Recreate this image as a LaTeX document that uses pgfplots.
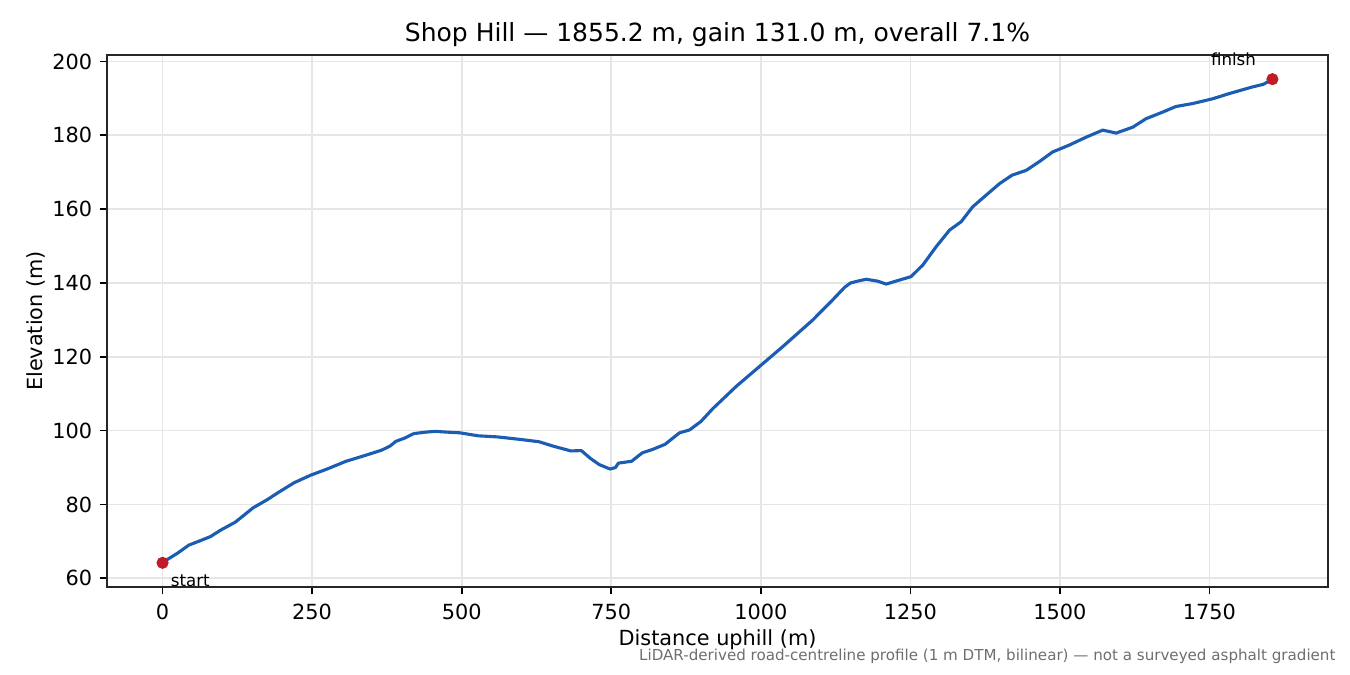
\documentclass[border=0pt]{standalone}
\usepackage{pgfplots}
\pgfplotsset{compat=1.18}
\usepackage{fontspec}
\setmainfont{DejaVu Sans}
\definecolor{lineblue}{HTML}{1C5DB4}
\definecolor{dotred}{HTML}{C01C28}
\definecolor{gridc}{HTML}{E6E6E6}
\definecolor{footc}{HTML}{6E6E6E}
\begin{document}
\begin{tikzpicture}
\begin{axis}[
  width=586.1pt, height=255.4pt, scale only axis,
  xmin=-92.76, xmax=1947.96, ymin=57.65, ymax=201.75,
  xtick={0,250,...,1750}, ytick={60,80,...,200},
  grid=major, grid style={gridc, line width=0.8pt},
  tick align=outside, tick pos=left,
  major tick length=3.5pt,
  every tick/.style={black, line width=0.8pt},
  axis line style={black!85, line width=0.8pt},
  ticklabel style={font=\fontsize{10}{12}\selectfont},
  xticklabel style={inner sep=0pt, yshift=-4.5pt},
  yticklabel style={inner sep=0pt, xshift=-3.5pt},
  /pgf/number format/assume math mode=true,
  /pgf/number format/1000 sep={},
  clip=false,
]
\addplot[lineblue, line width=1.5pt, line join=round] coordinates {
(0,64.2) (10,65.3) (25,66.8) (44,69.0) (60,70.0) (80,71.3) (97.6,73.1)
(121.5,75.2) (151.4,79.1) (175,81.3) (193,83.2) (220,85.9) (247,87.9)
(275,89.6) (306.6,91.7) (335,93.1) (366,94.7) (380,95.8) (390,97.1)
(405,98.0) (420,99.2) (440,99.6) (455.8,99.8) (475,99.6) (497.6,99.4)
(527.5,98.6) (560,98.3) (599,97.6) (629,97.0) (653,95.8) (682.6,94.5)
(700,94.6) (715,92.5) (730,90.8) (748,89.6) (757,90.0) (762,91.2)
(775,91.5) (784,91.7) (802,94.0) (819,94.9) (840,96.3) (864,99.4)
(881,100.2) (900,102.5) (920,106.0) (959,112.0) (998,117.4) (1037,122.8)
(1087,130.0) (1120,135.4) (1140,138.8) (1150,140.0) (1162,140.5) (1176,141.0) (1195,140.5)
(1209.6,139.7) (1232,140.8) (1251,141.7) (1271,144.9) (1293,149.8)
(1315.4,154.3) (1335,156.6) (1354,160.6) (1376.7,163.8) (1399,166.9)
(1420,169.2) (1443.6,170.5) (1465,172.8) (1488,175.5) (1515,177.3)
(1543.9,179.5) (1571.6,181.4) (1594,180.6) (1621.8,182.2) (1644,184.5)
(1672,186.3) (1694,187.8) (1722,188.6) (1755.5,189.9) (1783,191.3)
(1822,193.1) (1840,193.8) (1855.2,195.2)
};
\addplot[only marks, mark=*, mark size=2.7pt, draw=dotred, fill=dotred] coordinates {(0,64.2) (1855.2,195.2)};
\node[anchor=base west, font=\fontsize{8}{10}\selectfont, inner sep=0pt] at ([xshift=3.8pt, yshift=-11.5pt]axis cs:0,64.2) {start};
\node[anchor=base east, font=\fontsize{8}{10}\selectfont, inner sep=0pt] at ([xshift=-7.7pt, yshift=6.4pt]axis cs:1855.2,195.2) {finish};
\end{axis}
\node[anchor=base, inner sep=0pt, font=\fontsize{12}{14}\selectfont] at ([yshift=6.4pt]current axis.north) {Shop Hill — 1855.2 m, gain 131.0 m, overall 7.1\%};
\node[anchor=base, inner sep=0pt, font=\fontsize{10}{12}\selectfont] at ([yshift=-28.3pt]current axis.south) {Distance uphill (m)};
\node[anchor=base, rotate=90, inner sep=0pt, font=\fontsize{10}{12}\selectfont] at ([xshift=-31.2pt]current axis.west) {Elevation (m)};
\node[anchor=base east, inner sep=0pt, text=footc, font=\fontsize{7.25}{8}\selectfont] at ([xshift=3.8pt, yshift=-35.5pt]current axis.south east) {LiDAR-derived road-centreline profile (1 m DTM, bilinear) — not a surveyed asphalt gradient};
\pgfresetboundingbox
\path ([xshift=-51.4pt, yshift=-42.2pt]current axis.south west) rectangle ([xshift=10.6pt, yshift=26.4pt]current axis.north east);
\end{tikzpicture}
\end{document}
